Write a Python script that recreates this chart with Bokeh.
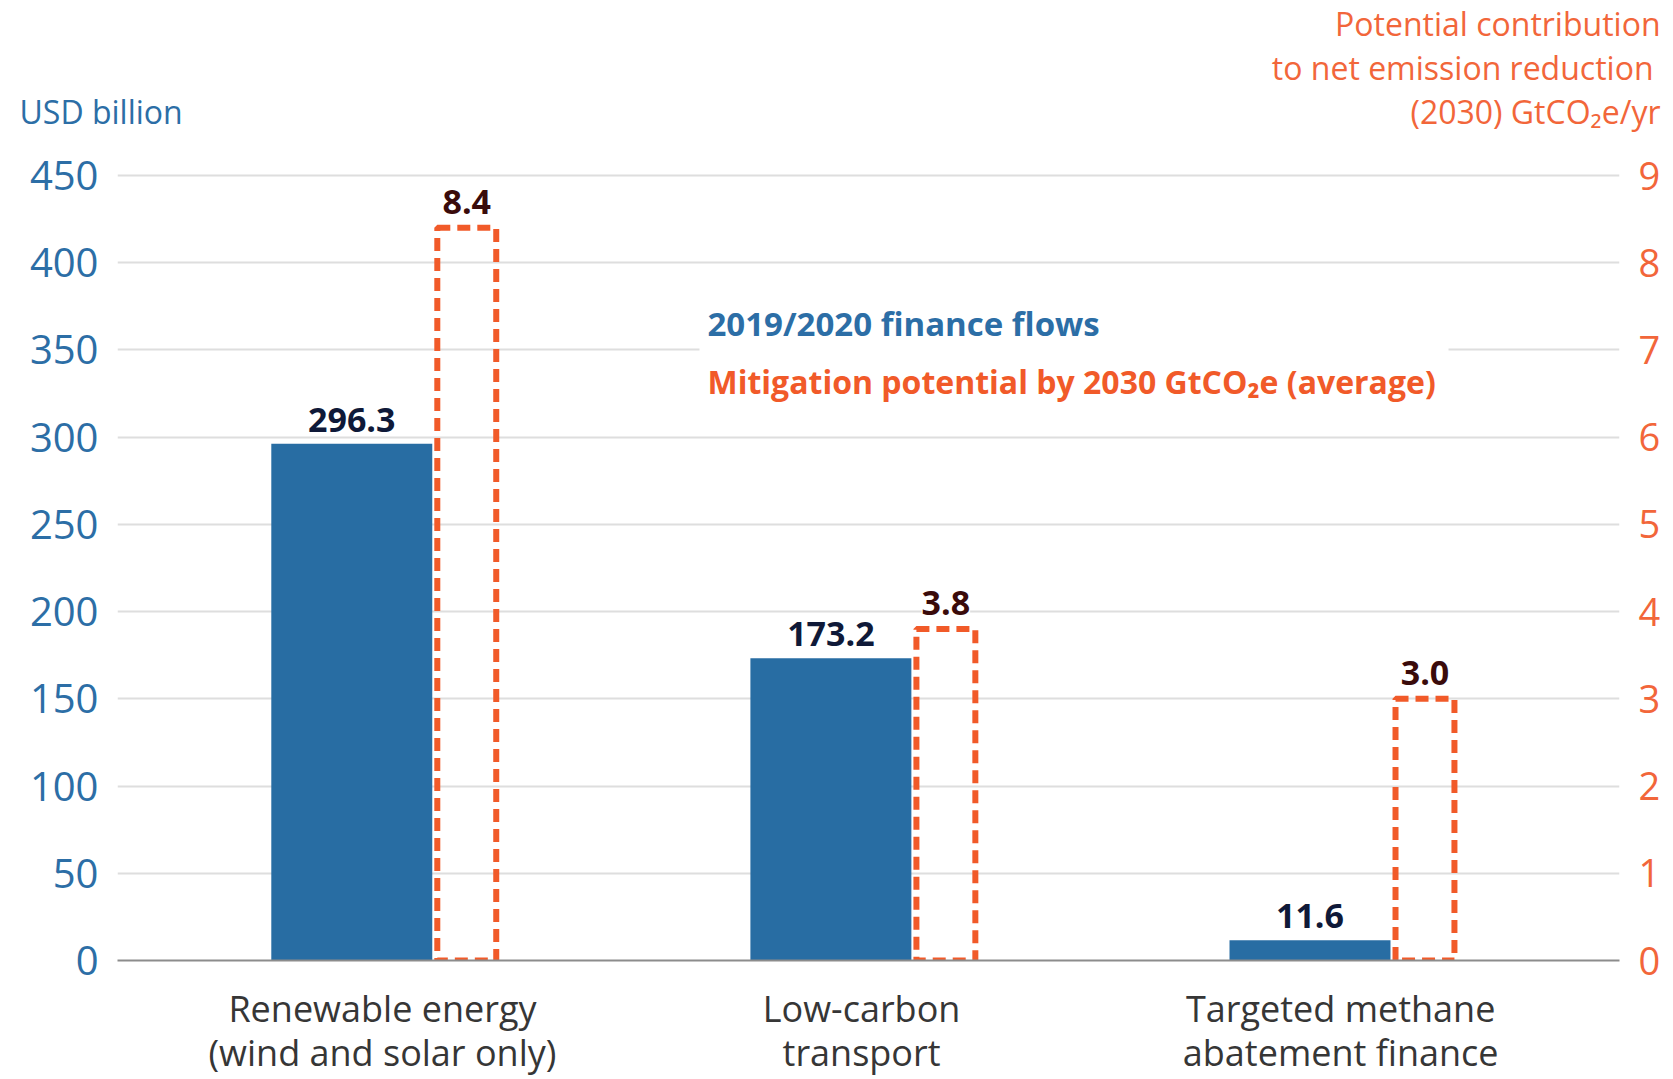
from bokeh.plotting import figure
from bokeh.models import (Range1d, LinearAxis, FixedTicker, Label, LabelSet,
                          ColumnDataSource, BoxAnnotation)
from bokeh.core.properties import value
from bokeh.embed import file_html
from bokeh.resources import INLINE

# ---------------- data ----------------
categories = ["Renewable energy\n(wind and solar only)",
              "Low-carbon\ntransport",
              "Targeted methane\nabatement finance"]
finance_flows = [296.3, 173.2, 11.6]          # USD billion (left axis)
mitigation = [8.4, 3.8, 3.0]                  # GtCO2e/yr (right axis)
left_ticks = [0, 50, 100, 150, 200, 250, 300, 350, 400, 450]
right_ticks = [0, 1, 2, 3, 4, 5, 6, 7, 8, 9]
left_title = "USD billion"
right_title = ["Potential contribution", "to net emission reduction", "(2030) GtCO\u2082e/yr"]
legend_finance = "2019/2020 finance flows"
legend_mitigation = "Mitigation potential by 2030 GtCO\u2082e (average)"

# ---------------- style ----------------
BLUE = "#286DA3"
BLUE_TXT = "#2C6EA6"
ORANGE = "#F15A29"
ORANGE_TXT = "#F2663A"
NAVY = "#0F1938"
MAROON = "#3A0B0B"
GRID = "#DEDEDE"
FONT = "Open Sans"

W, H = 1673, 1079
idx = list(range(len(categories)))
blue_x = [i - 0.064 for i in idx]
orange_x = [i + 0.176 for i in idx]

p = figure(width=W, height=H, output_backend="svg", toolbar_location=None,
           x_range=Range1d(-0.553, 2.582), y_range=Range1d(0, 451.15),
           min_border_left=117, min_border_right=54, min_border_top=173,
           min_border_bottom=119)
p.extra_y_ranges = {"mit": Range1d(0, 9 * 451.15 / 450)}
p.outline_line_color = None
p.background_fill_color = "white"
p.border_fill_color = "white"

# grid
p.xgrid.grid_line_color = None
p.ygrid.ticker = FixedTicker(ticks=left_ticks)
p.ygrid.grid_line_color = GRID
p.ygrid.grid_line_width = 2

# left axis
ya = p.yaxis[0]
ya.ticker = FixedTicker(ticks=left_ticks)
ya.axis_line_color = None
ya.major_tick_line_color = None
ya.minor_tick_line_color = None
ya.major_label_standoff = 13
ya.major_label_text_font = FONT
ya.major_label_text_font_size = "40px"
ya.major_label_text_color = BLUE_TXT

# right axis
ra = LinearAxis(y_range_name="mit", ticker=FixedTicker(ticks=right_ticks))
ra.axis_line_color = None
ra.major_tick_line_color = None
ra.minor_tick_line_color = None
ra.major_label_standoff = 13
ra.major_label_text_font = FONT
ra.major_label_text_font_size = "38px"
ra.major_label_text_color = ORANGE_TXT
p.add_layout(ra, "right")

# bottom axis
xa = p.xaxis[0]
xa.ticker = FixedTicker(ticks=idx)
xa.major_label_overrides = {i: c for i, c in zip(idx, categories)}
xa.axis_line_color = "#8C8C8C"
xa.axis_line_width = 2
xa.major_tick_line_color = None
xa.minor_tick_line_color = None
xa.major_label_standoff = 17
xa.major_label_text_font = FONT
xa.major_label_text_font_size = "36px"
xa.major_label_text_color = "#363636"
xa.major_label_text_line_height = 0.9

# bars
src_b = ColumnDataSource(dict(x=blue_x, top=finance_flows,
                              lab=[f"{v:.1f}" for v in finance_flows]))
src_o = ColumnDataSource(dict(x=orange_x, top=mitigation,
                              lab=[f"{v:.1f}" for v in mitigation]))
p.vbar(x="x", top="top", bottom=0, width=0.336, source=src_b,
       fill_color=BLUE, line_color=None)
p.vbar(x="x", top="top", bottom=0, width=0.123, source=src_o,
       fill_color=None, line_color=ORANGE, line_width=6, line_dash="13 7",
       y_range_name="mit")

# value labels
p.add_layout(LabelSet(x="x", y="top", text="lab", source=src_b,
                      text_align="center", text_baseline="alphabetic",
                      y_offset=12, text_font=value(FONT), text_font_style="bold",
                      text_font_size="34px", text_color=NAVY,
                      background_fill_color="white"))
p.add_layout(LabelSet(x="x", y="top", text="lab", source=src_o,
                      y_range_name="mit",
                      text_align="center", text_baseline="alphabetic",
                      y_offset=14, text_font=value(FONT), text_font_style="bold",
                      text_font_size="34px", text_color=MAROON,
                      background_fill_color="white"))

# legend area (white box hiding gridline) + colored legend texts
p.add_layout(BoxAnnotation(left=582, right=1331, bottom=565, top=655,
                           left_units="screen", right_units="screen",
                           top_units="screen", bottom_units="screen",
                           fill_color="white", fill_alpha=1.0, line_color=None,
                           level="underlay"))
p.add_layout(Label(x=590, y=637, x_units="screen", y_units="screen",
                   text=legend_finance, text_align="left", text_baseline="middle",
                   text_font=FONT, text_font_style="bold", text_font_size="33px",
                   text_color=BLUE_TXT))
p.add_layout(Label(x=590, y=579, x_units="screen", y_units="screen",
                   text=legend_mitigation, text_align="left", text_baseline="middle",
                   text_font=FONT, text_font_style="bold", text_font_size="32px",
                   text_color=ORANGE))

# axis titles, placed in the top side panel (canvas coordinates)
p.add_layout(Label(x=19, y=111, x_units="canvas", y_units="canvas",
                   text=left_title, text_align="left", text_baseline="middle",
                   text_font=FONT, text_font_size="32px", text_color=BLUE_TXT),
             "above")
for t, xx, yy in zip(right_title, [1660, 1653, 1660], [23, 67, 111]):
    p.add_layout(Label(x=xx, y=yy, x_units="canvas", y_units="canvas",
                       text=t, text_align="right", text_baseline="middle",
                       text_font=FONT, text_font_size="32px", text_color=ORANGE_TXT),
                 "above")

open("out.html", "w").write(file_html(p, INLINE))
